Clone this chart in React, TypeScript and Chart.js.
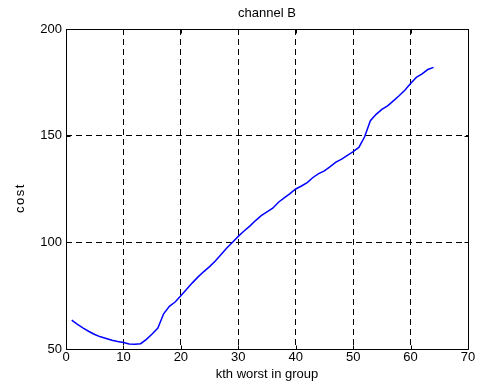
import React, { useEffect, useRef } from "react";
import { Chart, registerables } from "chart.js";

Chart.register(...registerables);

const titleText = "channel B";
const xLabel = "kth worst in group";
const yLabel = "cost";
const xValues = [
  1, 2, 3, 4, 5, 6, 7, 8, 9, 10, 11, 12, 13, 14, 15, 16, 17, 18, 19, 20, 21, 22, 23, 24, 25, 26, 27, 28, 29, 30, 31, 32,
  33, 34, 35, 36, 37, 38, 39, 40, 41, 42, 43, 44, 45, 46, 47, 48, 49, 50, 51, 52, 53, 54, 55, 56, 57, 58, 59, 60, 61, 62, 63, 64,
];
const costValues = [
  63.5, 61.5, 59.8, 58.2, 56.8, 55.7, 54.9, 54.1, 53.5, 53.0, 52.3, 52.2, 52.5, 54.5, 57.0, 59.8,
  66.5, 70.0, 72.0, 75.0, 78.0, 81.0, 83.8, 86.3, 88.6, 91.2, 94.3, 97.3, 100.0, 102.8, 105.3, 107.6,
  110.2, 112.5, 114.3, 116.0, 118.8, 120.8, 122.8, 125.0, 126.4, 128.0, 130.4, 132.2, 133.5, 135.5, 137.6, 139.0,
  140.8, 142.5, 144.5, 149.5, 157.0, 160.0, 162.3, 164.0, 166.3, 168.7, 171.3, 174.5, 177.3, 179.0, 181.0, 182.0,
];
const xTicks = [0, 10, 20, 30, 40, 50, 60, 70];
const yTicks = [50, 100, 150, 200];

const FONT = "'Liberation Sans', Arial, sans-serif";

const framePlugin = {
  id: "frame",
  afterDraw(chart: any) {
    const { ctx, chartArea } = chart;
    const xs = chart.scales.x;
    const ys = chart.scales.y;
    ctx.save();
    ctx.strokeStyle = "#000";
    ctx.lineWidth = 1;
    ctx.setLineDash([]);
    ctx.beginPath();
    const l = Math.round(chartArea.left) + 0.5;
    const r = Math.round(chartArea.right) + 0.5;
    const t = Math.round(chartArea.top) + 0.5;
    const b = Math.round(chartArea.bottom) + 0.5;
    ctx.rect(l, t, r - l, b - t);
    const tl = 4;
    xTicks.forEach((v) => {
      const px = Math.round(xs.getPixelForValue(v)) + 0.5;
      ctx.moveTo(px, b);
      ctx.lineTo(px, b - tl);
      ctx.moveTo(px, t);
      ctx.lineTo(px, t + tl);
    });
    yTicks.forEach((v) => {
      const py = Math.round(ys.getPixelForValue(v)) + 0.5;
      ctx.moveTo(l, py);
      ctx.lineTo(l + tl, py);
      ctx.moveTo(r, py);
      ctx.lineTo(r - tl, py);
    });
    ctx.stroke();
    // y axis label, placed as in the reference (slightly below the plot centre)
    ctx.fillStyle = "#000";
    ctx.font = `13px ${FONT}`;
    ctx.textAlign = "center";
    ctx.textBaseline = "middle";
    (ctx as any).letterSpacing = "1.5px";
    ctx.translate(20.5, (chartArea.top + chartArea.bottom) / 2 + 9);
    ctx.rotate(-Math.PI / 2);
    ctx.fillText(yLabel, 0, 0);
    ctx.restore();
  },
};

export default function App() {
  const ref = useRef<HTMLCanvasElement | null>(null);

  useEffect(() => {
    document.body.style.margin = "0";
    const canvas = ref.current;
    if (!canvas) return;
    const chart = new Chart(canvas, {
      type: "line",
      data: {
        datasets: [
          {
            data: xValues.map((x, i) => ({ x, y: costValues[i] })),
            borderColor: "#0000ff",
            borderWidth: 1.5,
            pointRadius: 0,
            tension: 0,
            fill: false,
          },
        ],
      },
      options: {
        animation: false,
        responsive: false,
        maintainAspectRatio: false,
        devicePixelRatio: 1,
        layout: { padding: { left: 0, right: 9, top: 0, bottom: 0 } },
        plugins: {
          legend: { display: false },
          tooltip: { enabled: false },
          title: {
            display: true,
            text: titleText,
            fullSize: false,
            color: "#000",
            font: { family: FONT, size: 13, weight: "normal", lineHeight: 1.2 },
            padding: { top: 6, bottom: 7.4 },
          },
        },
        scales: {
          x: {
            type: "linear",
            min: 0,
            max: 70,
            afterBuildTicks: (s: any) => {
              s.ticks = xTicks.map((v) => ({ value: v }));
            },
            afterFit: (s: any) => {
              s.height = 37;
            },
            ticks: {
              color: "#000",
              font: { family: FONT, size: 13 },
              padding: 1,
              maxRotation: 0,
            },
            grid: { color: "#000", lineWidth: 1, drawTicks: false },
            border: { display: false, dash: [6, 4] },
            title: {
              display: true,
              text: xLabel,
              color: "#000",
              font: { family: FONT, size: 13, lineHeight: 1.2 },
              padding: { top: 0, bottom: 4.2 },
            },
          },
          y: {
            type: "linear",
            min: 50,
            max: 200,
            afterBuildTicks: (s: any) => {
              s.ticks = yTicks.map((v) => ({ value: v }));
            },
            afterFit: (s: any) => {
              s.width = 66;
            },
            ticks: {
              color: "#000",
              font: { family: FONT, size: 13 },
              padding: 4,
            },
            grid: { color: "#000", lineWidth: 1, drawTicks: false },
            border: { display: false, dash: [6, 4] },
            title: { display: false, text: yLabel },
          },
        },
      },
      plugins: [framePlugin],
    });
    return () => chart.destroy();
  }, []);

  return (
    <div style={{ width: 477, height: 386, background: "#fff" }}>
      <canvas ref={ref} width={477} height={386} style={{ display: "block", width: 477, height: 386 }} />
    </div>
  );
}
